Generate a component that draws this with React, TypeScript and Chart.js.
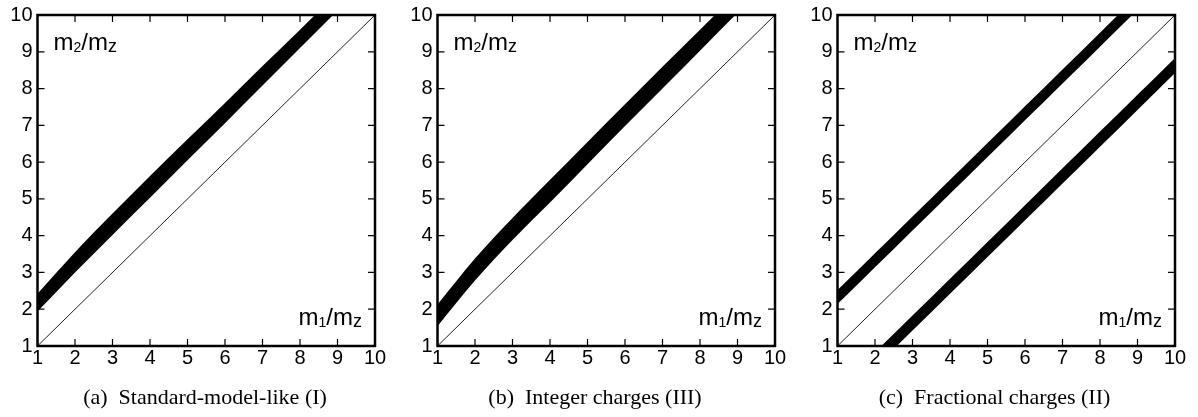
import { useEffect, useRef } from "react";
import { Chart, registerables } from "chart.js";

Chart.register(...registerables);

// ---- data ----
const massRatio = [1, 2, 3, 4, 5, 6, 7, 8, 9, 10];
const tickValues = [1, 2, 3, 4, 5, 6, 7, 8, 9, 10];
const diagonalX = [1, 10];
const diagonalY = [1, 10];

// (a) Standard-model-like (I)
const smUpper = [2.42, 3.55, 4.6, 5.62, 6.62, 7.61, 8.61, 9.6, 10.6, 11.6];
const smLower = [1.94, 3.0, 4.02, 5.03, 6.05, 7.06, 8.08, 9.1, 10.12, 11.14];

// (b) Integer charges (III)
const intUpper = [2.13, 3.38, 4.48, 5.52, 6.55, 7.57, 8.59, 9.6, 10.6, 11.6];
const intLower = [1.54, 2.78, 3.88, 4.9, 5.94, 6.98, 8.0, 9.03, 10.06, 11.1];

// (c) Fractional charges (II)
const fracHighTop = [2.52, 3.52, 4.52, 5.52, 6.52, 7.52, 8.52, 9.52, 10.52, 11.52];
const fracHighBottom = [2.14, 3.14, 4.14, 5.14, 6.14, 7.14, 8.14, 9.14, 10.14, 11.14];
const fracLowTop = [-0.17, 0.83, 1.83, 2.83, 3.83, 4.83, 5.83, 6.83, 7.83, 8.83];
const fracLowBottom = [-0.58, 0.42, 1.42, 2.42, 3.42, 4.42, 5.42, 6.42, 7.42, 8.42];

const captions = [
  "(a)\u2002Standard-model-like (I)",
  "(b)\u2002Integer charges (III)",
  "(c)\u2002Fractional charges (II)",
];

const yLabelParts = [
  { t: "m", s: 24, dy: 0 },
  { t: "2", s: 14, dy: 2 },
  { t: "/m", s: 24, dy: 0 },
  { t: "z", s: 18, dy: 2 },
];
const xLabelParts = [
  { t: "m", s: 24, dy: 0 },
  { t: "1", s: 14, dy: 2 },
  { t: "/m", s: 24, dy: 0 },
  { t: "z", s: 18, dy: 2 },
];

const SANS = "'Liberation Sans', Arial, Helvetica, sans-serif";
const SERIF = "'Liberation Serif', 'Times New Roman', serif";

type Band = [number[], number[]];

function drawParts(ctx: CanvasRenderingContext2D, parts: any[], x: number, y: number, alignRight: boolean) {
  const widths = parts.map((p) => {
    ctx.font = `${p.s}px ${SANS}`;
    return ctx.measureText(p.t).width;
  });
  const total = widths.reduce((a, b) => a + b, 0);
  let cx = alignRight ? x - total : x;
  ctx.textAlign = "left";
  ctx.textBaseline = "alphabetic";
  parts.forEach((p, i) => {
    ctx.font = `${p.s}px ${SANS}`;
    ctx.fillText(p.t, cx, y + p.dy);
    cx += widths[i];
  });
}

const framePlugin = {
  id: "frameTicks",
  afterDatasetsDraw(chart: any, _args: any, opts: any) {
    const { ctx, chartArea } = chart;
    const { left, right, top, bottom } = chartArea;
    const xs = chart.scales.x;
    const ys = chart.scales.y;
    ctx.save();
    ctx.strokeStyle = "#000";
    ctx.fillStyle = "#000";
    ctx.lineWidth = 1.2;
    const tl = 7;
    xs.ticks.forEach((t: any) => {
      const px = xs.getPixelForValue(t.value);
      ctx.beginPath();
      ctx.moveTo(px, bottom);
      ctx.lineTo(px, bottom - tl);
      ctx.moveTo(px, top);
      ctx.lineTo(px, top + tl);
      ctx.stroke();
    });
    ys.ticks.forEach((t: any) => {
      const py = ys.getPixelForValue(t.value);
      ctx.beginPath();
      ctx.moveTo(left, py);
      ctx.lineTo(left + tl, py);
      ctx.moveTo(right, py);
      ctx.lineTo(right - tl, py);
      ctx.stroke();
    });
    ctx.lineWidth = 2.5;
    ctx.strokeRect(left, top, right - left, bottom - top);

    drawParts(ctx, yLabelParts, left + 16, top + 35, false);
    drawParts(ctx, xLabelParts, right - 13, bottom - 21, true);

    ctx.font = `22px ${SERIF}`;
    ctx.textAlign = "center";
    ctx.textBaseline = "alphabetic";
    ctx.fillText(opts.caption, opts.captionX, 403.5);
    ctx.restore();
  },
};

function Panel({ bands, caption, captionX, left }: { bands: Band[]; caption: string; captionX: number; left: number }) {
  const ref = useRef<HTMLCanvasElement | null>(null);
  useEffect(() => {
    if (!ref.current) return;
    const datasets: any[] = [];
    bands.forEach(([lower, upper]) => {
      datasets.push({
        data: massRatio.map((x, i) => ({ x, y: lower[i] })),
        showLine: true,
        pointRadius: 0,
        borderWidth: 0,
        borderColor: "transparent",
        cubicInterpolationMode: "monotone",
        fill: false,
      });
      datasets.push({
        data: massRatio.map((x, i) => ({ x, y: upper[i] })),
        showLine: true,
        pointRadius: 0,
        borderWidth: 0,
        borderColor: "transparent",
        backgroundColor: "#000",
        cubicInterpolationMode: "monotone",
        fill: "-1",
      });
    });
    datasets.push({
      data: diagonalX.map((x, i) => ({ x, y: diagonalY[i] })),
      showLine: true,
      pointRadius: 0,
      borderWidth: 1,
      borderColor: "#222",
      fill: false,
    });
    const chart = new Chart(ref.current, {
      type: "scatter",
      data: { datasets },
      options: {
        animation: false,
        responsive: false,
        devicePixelRatio: 1,
        layout: { padding: { top: 10, right: 25, left: 0, bottom: 0 } },
        plugins: {
          legend: { display: false },
          tooltip: { enabled: false },
          frameTicks: { caption, captionX },
        } as any,
        scales: {
          x: {
            type: "linear",
            min: 1,
            max: 10,
            afterBuildTicks: (s: any) => {
              s.ticks = tickValues.map((v) => ({ value: v }));
            },
            ticks: {
              color: "#000",
              font: { family: SANS, size: 20, lineHeight: 1 },
              padding: 2,
              maxRotation: 0,
              autoSkip: false,
            },
            grid: { display: false, drawTicks: false },
            border: { display: false },
            afterFit: (s: any) => {
              s.height = 71;
            },
          },
          y: {
            type: "linear",
            min: 1,
            max: 10,
            afterBuildTicks: (s: any) => {
              s.ticks = tickValues.map((v) => ({ value: v }));
            },
            ticks: {
              color: "#000",
              font: { family: SANS, size: 20, lineHeight: 1 },
              padding: 5,
              autoSkip: false,
            },
            grid: { display: false, drawTicks: false },
            border: { display: false },
            afterFit: (s: any) => {
              s.width = 37.5;
            },
          },
        },
      } as any,
      plugins: [framePlugin],
    });
    return () => chart.destroy();
  }, []);
  return (
    <div style={{ position: "absolute", left, top: 0, width: 400, height: 417 }}>
      <canvas ref={ref} width={400} height={417} style={{ width: 400, height: 417, display: "block" }} />
    </div>
  );
}

export default function App() {
  return (
    <div
      style={{
        position: "absolute",
        left: 0,
        top: 0,
        width: 1198,
        height: 417,
        overflow: "hidden",
        background: "#fff",
      }}
    >
      <Panel bands={[[smLower, smUpper]]} caption={captions[0]} captionX={205} left={0} />
      <Panel bands={[[intLower, intUpper]]} caption={captions[1]} captionX={195} left={400} />
      <Panel
        bands={[
          [fracHighBottom, fracHighTop],
          [fracLowBottom, fracLowTop],
        ]}
        caption={captions[2]}
        captionX={194.5}
        left={800}
      />
    </div>
  );
}
